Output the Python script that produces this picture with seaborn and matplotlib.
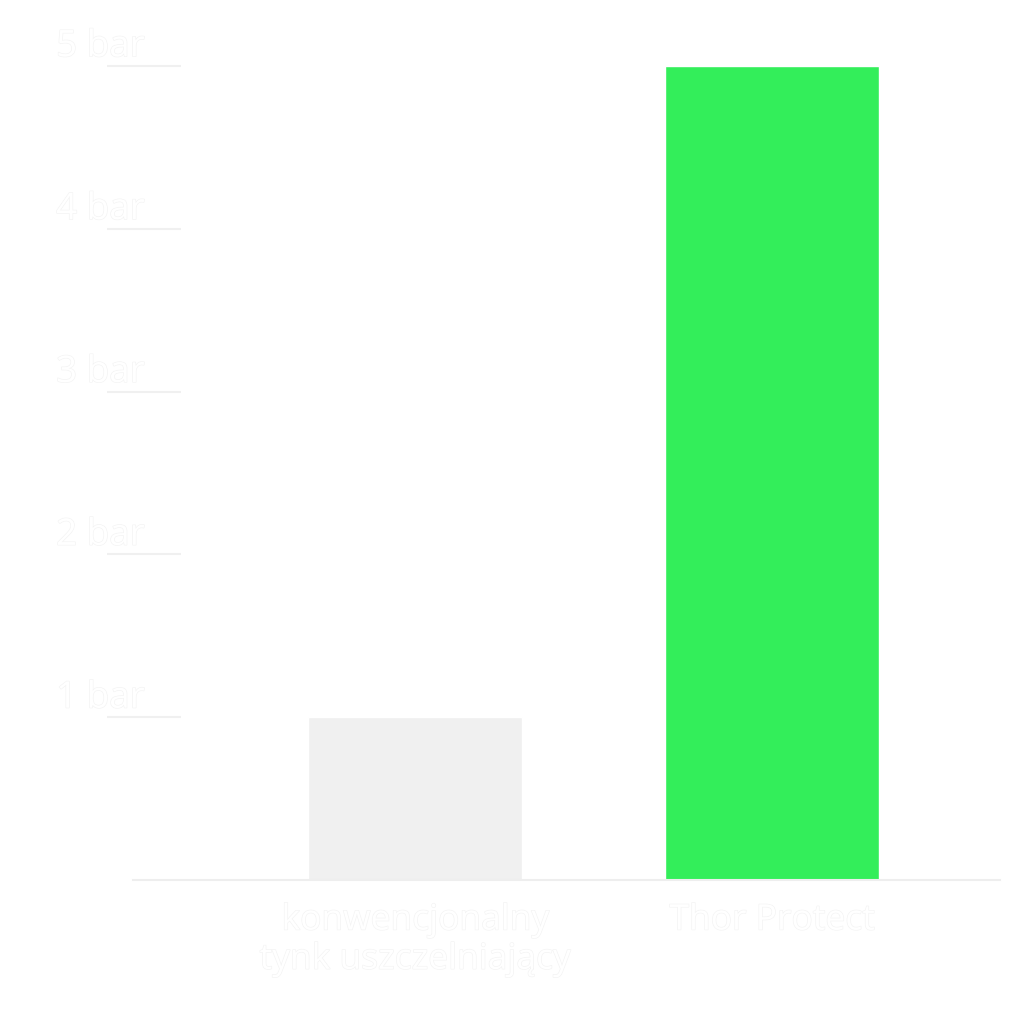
import numpy as np
import pandas as pd
import matplotlib
matplotlib.use("Agg")
import matplotlib.pyplot as plt
import matplotlib.patheffects as pe
from matplotlib.transforms import ScaledTranslation
import seaborn as sns

# Daten
categories = ["konwencjonalny\ntynk uszczelniający", "Thor Protect"]
pressure = [1, 5]
bar_colors = ["#f0f0f0", "#33ee5a"]
y_ticks = [1, 2, 3, 4, 5]
y_tick_labels = [f"{v} bar" for v in y_ticks]

df = pd.DataFrame({"kategorie": categories, "druck": pressure})

sns.set_style("white")
plt.rcParams['font.family'] = ['Open Sans', 'DejaVu Sans']

fig = plt.figure(figsize=(10.24, 10.24), dpi=100)
ax = fig.add_axes([107/1024, 1 - 880/1024, (1000-107)/1024, 863/1024])

sns.barplot(data=df, x="kategorie", y="druck", hue="kategorie", palette=bar_colors,
            width=0.6, legend=False, ax=ax, saturation=1)

ax.set_xlim(-0.863, 1.639)
ax.set_ylim(0, 5.3)
ax.set_xlabel("")
ax.set_ylabel("")

for s in ["top", "right", "left"]:
    ax.spines[s].set_visible(False)
ax.spines["bottom"].set_color("#eeeeee")
ax.spines["bottom"].set_linewidth(1.5)
ax.spines["bottom"].set_bounds(-0.79, 1.639)

outline = [pe.withStroke(linewidth=0.9, foreground="#f3f3f3")]

# y-Achse
ax.set_yticks(y_ticks)
ax.set_yticklabels(y_tick_labels)
ax.tick_params(axis="y", left=True, direction="in", length=53, width=1.5, color="#f0f0f0",
               pad=-27, labelsize=26.5, labelcolor="white")
for lbl in ax.get_yticklabels():
    lbl.set_path_effects(outline)
    lbl.set_transform(lbl.get_transform() + ScaledTranslation(0, 0.23, fig.dpi_scale_trans))

# x-Achse
ax.set_xticks(range(len(categories)))
ax.set_xticklabels(categories)
ax.tick_params(axis="x", bottom=False, length=0, pad=17, labelsize=25.5, labelcolor="white")
for lbl in ax.get_xticklabels():
    lbl.set_path_effects(outline)
    lbl.set_linespacing(1.2)

fig.savefig("out.png", dpi=100, facecolor="white")
